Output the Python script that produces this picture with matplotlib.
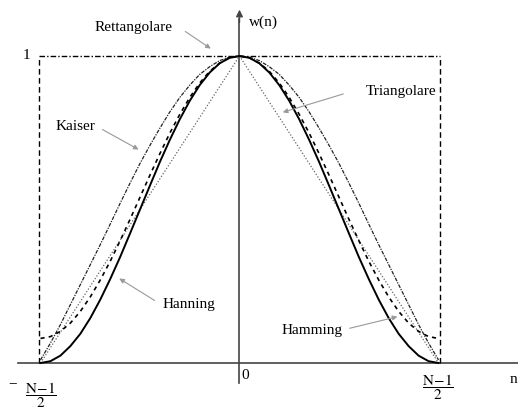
import matplotlib
matplotlib.use('Agg')
import matplotlib.pyplot as plt

plt.rcParams['font.family'] = ['Liberation Serif', 'DejaVu Serif']
plt.rcParams['mathtext.fontset'] = 'stix'

# sample positions, n / ((N-1)/2)
n_pos = [-1.0, -0.95, -0.9, -0.85, -0.8, -0.75, -0.7, -0.65, -0.6, -0.55, -0.5,
         -0.45, -0.4, -0.35, -0.3, -0.25, -0.2, -0.15, -0.1, -0.05, 0.0,
         0.05, 0.1, 0.15, 0.2, 0.25, 0.3, 0.35, 0.4, 0.45, 0.5,
         0.55, 0.6, 0.65, 0.7, 0.75, 0.8, 0.85, 0.9, 0.95, 1.0]

# values
hanning = [0.0, 0.006, 0.024, 0.055, 0.095, 0.146, 0.206, 0.273, 0.345, 0.422, 0.5,
           0.578, 0.655, 0.727, 0.794, 0.854, 0.905, 0.946, 0.976, 0.994, 1.0,
           0.994, 0.976, 0.946, 0.905, 0.854, 0.794, 0.727, 0.655, 0.578, 0.5,
           0.422, 0.345, 0.273, 0.206, 0.146, 0.095, 0.055, 0.024, 0.006, 0.0]
hamming = [0.08, 0.086, 0.103, 0.13, 0.168, 0.215, 0.27, 0.331, 0.398, 0.468, 0.54,
           0.612, 0.682, 0.749, 0.81, 0.865, 0.912, 0.95, 0.977, 0.994, 1.0,
           0.994, 0.977, 0.95, 0.912, 0.865, 0.81, 0.749, 0.682, 0.612, 0.54,
           0.468, 0.398, 0.331, 0.27, 0.215, 0.168, 0.13, 0.103, 0.086, 0.08]
kaiser = [0.01, 0.065, 0.125, 0.19, 0.255, 0.32, 0.385, 0.452, 0.52, 0.586, 0.65,
          0.709, 0.765, 0.818, 0.865, 0.905, 0.94, 0.965, 0.985, 0.996, 1.0,
          0.996, 0.985, 0.965, 0.94, 0.905, 0.865, 0.818, 0.765, 0.709, 0.65,
          0.586, 0.52, 0.452, 0.385, 0.32, 0.255, 0.19, 0.125, 0.065, 0.01]
tri_x = [-1.0, 0.0, 1.0]
tri_y = [0.0, 1.0, 0.0]
rect_x = [-1.01, 1.008]
rect_y = [0.0, 1.0]

fig = plt.figure(figsize=(5.18, 4.09), dpi=100)
ax = fig.add_axes([0, 0, 1, 1])
ax.set_xlim(-1.2035, 1.3995)
ax.set_ylim(-0.1498, 1.1824)
ax.axis('off')

# axes
ax.plot([-1.113, 1.40], [0, 0], color='#444444', lw=1.2)
ax.plot([0, 0], [-0.065, 1.12], color='#444444', lw=1.2)
ax.annotate('', xy=(0, 1.16), xytext=(0, 1.10),
            arrowprops=dict(arrowstyle='-|>', color='#444444', lw=1.0,
                            mutation_scale=10))

# rectangular window
ax.plot([rect_x[0], rect_x[0]], rect_y, color='black', lw=1.0, ls=(0, (4, 2.5)))
ax.plot([rect_x[1], rect_x[1]], rect_y, color='black', lw=1.0, ls=(0, (4, 2.5)))
ax.plot(rect_x, [rect_y[1], rect_y[1]], color='black', lw=1.0,
        ls=(0, (4, 1.5, 1, 1.5)))

ax.plot(tri_x, tri_y, color='#666666', lw=0.9, ls=(0, (1, 1.5)))
ax.plot(n_pos, kaiser, color='#222222', lw=0.9, ls=(0, (3, 1, 1, 1)))
ax.plot(n_pos, hamming, color='black', lw=1.2, ls=(0, (2.5, 2.5)))
ax.plot(n_pos, hanning, color='black', lw=1.4)

# labels
fs = 11
arr = dict(arrowstyle='-|>', color='#999999', lw=0.8, mutation_scale=7)
ax.text(-0.535, 1.094, 'Rettangolare', fontsize=fs, ha='center', va='center')
ax.annotate('', xy=(-0.133, 1.019), xytext=(-0.284, 1.085), arrowprops=arr)
ax.text(0.812, 0.883, 'Triangolare', fontsize=fs, ha='center', va='center')
ax.annotate('', xy=(0.204, 0.814), xytext=(0.535, 0.879), arrowprops=arr)
ax.text(-0.822, 0.769, 'Kaiser', fontsize=fs, ha='center', va='center')
ax.annotate('', xy=(-0.495, 0.691), xytext=(-0.701, 0.765), arrowprops=arr)
ax.text(-0.254, 0.189, 'Hanning', fontsize=fs, ha='center', va='center')
ax.annotate('', xy=(-0.616, 0.280), xytext=(-0.415, 0.199), arrowprops=arr)
ax.text(0.364, 0.107, 'Hamming', fontsize=fs, ha='center', va='center')
ax.annotate('', xy=(0.807, 0.153), xytext=(0.540, 0.111), arrowprops=arr)

ax.text(0.123, 1.111, 'w(n)', fontsize=fs, ha='center', va='center')
ax.text(-1.068, 1.0, '1', fontsize=fs, ha='center', va='center')
ax.text(0.03, -0.042, '0', fontsize=fs, ha='center', va='center')
ax.text(-1.138, -0.068, '\u2212', fontsize=fs, ha='center', va='center')
ax.text(-0.997, -0.103, r'$\dfrac{\mathrm{N\!-\!1}}{2}$', fontsize=fs,
        ha='center', va='center')
ax.text(0.997, -0.080, r'$\dfrac{\mathrm{N\!-\!1}}{2}$', fontsize=fs,
        ha='center', va='center')
ax.text(1.358, -0.055, 'n', fontsize=fs, ha='left', va='center')

fig.savefig('out.png', dpi=100)
